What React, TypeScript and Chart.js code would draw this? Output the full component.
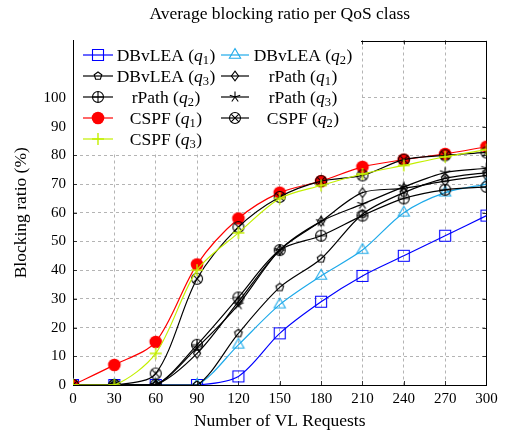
import React, { useEffect, useRef } from 'react';
import { Chart, registerables } from 'chart.js';

Chart.register(...registerables);

// ---- data ----
const requests = [0, 30, 60, 90, 120, 150, 180, 210, 240, 270, 300];
const dbvleaQ1 = [0, 0, 0, 0, 3, 18, 29, 38, 45, 52, 59];
const dbvleaQ2 = [0, 0, 0, 0, 14, 28, 38, 47, 60, 67, 70];
const dbvleaQ3 = [0, 0, 0, 0, 18, 34, 44, 59.5, 67, 72, 74];
const rpathQ1 = [0, 0, 0, 11, 29, 47, 57, 67, 68.5, 71, 73];
const rpathQ2 = [0, 0, 0, 14, 30.5, 47, 52, 59, 65, 68, 69];
const rpathQ3 = [0, 0, 0, 13, 28, 47, 57, 63, 69, 74, 75.5];
const cspfQ1 = [0, 7, 15, 42, 58, 67, 71, 76, 78.5, 80.5, 83];
const cspfQ2 = [0, 0, 4, 37, 55, 65.5, 71, 73, 78.5, 80, 81];
const cspfQ3 = [0, 0, 11, 40, 53, 65, 69.5, 73.5, 76.5, 79.5, 82];

const seriesNames = ['DBvLEA', 'DBvLEA', 'DBvLEA', 'rPath', 'rPath', 'rPath', 'CSPF', 'CSPF', 'CSPF'];
const seriesClass = ['1', '2', '3', '1', '2', '3', '1', '2', '3'];
const seriesValues = [dbvleaQ1, dbvleaQ2, dbvleaQ3, rpathQ1, rpathQ2, rpathQ3, cspfQ1, cspfQ2, cspfQ3];
const seriesColors = ['#0000ff', '#1eaaea', '#000000', '#000000', '#000000', '#000000', '#ff0000', '#000000', '#c3ef00'];
const seriesMarkers = ['square', 'triangle', 'pentagon', 'diamond', 'oplus', 'star', 'circle', 'otimes', 'plus'];

const xTickStep = 30;
const yTickStep = 10;
const yTickTop = 100;
const yAxisMax = 120;

const chartTitle = 'Average blocking ratio per QoS class';
const xTitle = 'Number of VL Requests';
const yTitle = 'Blocking ratio (%)';

const SERIF = '"Liberation Serif", "Times New Roman", Times, serif';

function drawMarker(ctx: CanvasRenderingContext2D, kind: string, color: string, cx: number, cy: number) {
  ctx.save();
  ctx.setLineDash([]);
  ctx.strokeStyle = color;
  ctx.fillStyle = color;
  ctx.lineWidth = 1.1;
  ctx.beginPath();
  switch (kind) {
    case 'square':
      ctx.rect(cx - 5.5, cy - 5.5, 11, 11);
      ctx.stroke();
      break;
    case 'triangle': {
      const r = 6.5;
      ctx.moveTo(cx, cy - r);
      ctx.lineTo(cx + r * 0.866, cy + r * 0.5);
      ctx.lineTo(cx - r * 0.866, cy + r * 0.5);
      ctx.closePath();
      ctx.stroke();
      break;
    }
    case 'pentagon': {
      const r = 4;
      for (let k = 0; k < 5; k++) {
        const a = (-90 + 72 * k) * Math.PI / 180;
        const px = cx + r * Math.cos(a);
        const py = cy + r * Math.sin(a);
        if (k === 0) ctx.moveTo(px, py); else ctx.lineTo(px, py);
      }
      ctx.closePath();
      ctx.stroke();
      break;
    }
    case 'diamond':
      ctx.moveTo(cx, cy - 4.8);
      ctx.lineTo(cx + 3.6, cy);
      ctx.lineTo(cx, cy + 4.8);
      ctx.lineTo(cx - 3.6, cy);
      ctx.closePath();
      ctx.stroke();
      break;
    case 'oplus': {
      const r = 5.5;
      ctx.arc(cx, cy, r, 0, Math.PI * 2);
      ctx.moveTo(cx - r, cy);
      ctx.lineTo(cx + r, cy);
      ctx.moveTo(cx, cy - r);
      ctx.lineTo(cx, cy + r);
      ctx.stroke();
      break;
    }
    case 'otimes': {
      const r = 5.5;
      const d = r * 0.7071;
      ctx.arc(cx, cy, r, 0, Math.PI * 2);
      ctx.moveTo(cx - d, cy - d);
      ctx.lineTo(cx + d, cy + d);
      ctx.moveTo(cx - d, cy + d);
      ctx.lineTo(cx + d, cy - d);
      ctx.stroke();
      break;
    }
    case 'star': {
      const r = 5.5;
      for (let k = 0; k < 5; k++) {
        const a = (-90 + 72 * k) * Math.PI / 180;
        ctx.moveTo(cx, cy);
        ctx.lineTo(cx + r * Math.cos(a), cy + r * Math.sin(a));
      }
      ctx.stroke();
      break;
    }
    case 'circle':
      ctx.arc(cx, cy, 6.3, 0, Math.PI * 2);
      ctx.fill();
      break;
    case 'plus':
      ctx.lineWidth = 1.4;
      ctx.moveTo(cx - 6, cy);
      ctx.lineTo(cx + 6, cy);
      ctx.moveTo(cx, cy - 6);
      ctx.lineTo(cx, cy + 6);
      ctx.stroke();
      break;
  }
  ctx.restore();
}

function makeMarkerCanvas(kind: string, color: string): HTMLCanvasElement {
  const c = document.createElement('canvas');
  c.width = 18;
  c.height = 18;
  const ctx = c.getContext('2d')!;
  drawMarker(ctx, kind, color, 9, 9);
  return c;
}

function drawLegendText(ctx: CanvasRenderingContext2D, name: string, sub: string, centerX: number, baseline: number) {
  const normal = `17.5px ${SERIF}`;
  const italic = `italic 17.5px ${SERIF}`;
  const small = `12.5px ${SERIF}`;
  const p1 = `${name} (`;
  ctx.font = normal;
  const w1 = ctx.measureText(p1).width;
  const w4 = ctx.measureText(')').width;
  ctx.font = italic;
  const w2 = ctx.measureText('q').width;
  ctx.font = small;
  const w3 = ctx.measureText(sub).width;
  const total = w1 + w2 + w3 + w4 + 0.5;
  let x = centerX - total / 2;
  ctx.fillStyle = '#000';
  ctx.textBaseline = 'alphabetic';
  ctx.textAlign = 'left';
  ctx.font = normal;
  ctx.fillText(p1, x, baseline);
  x += w1;
  ctx.font = italic;
  ctx.fillText('q', x, baseline);
  x += w2;
  ctx.font = small;
  ctx.fillText(sub, x, baseline + 3.5);
  x += w3 + 0.5;
  ctx.font = normal;
  ctx.fillText(')', x, baseline);
}

const framePlugin = {
  id: 'frameAndLegend',
  beforeDatasetsDraw(chart: any) {
    const { ctx, chartArea } = chart;
    const { left, right, top, bottom } = chartArea;
    ctx.save();
    ctx.setLineDash([]);
    ctx.strokeStyle = '#333';
    ctx.lineWidth = 1;
    const xs = chart.scales.x;
    const ys = chart.scales.y;
    for (let v = xTickStep; v < 300; v += xTickStep) {
      const px = Math.round(xs.getPixelForValue(v)) + 0.5;
      ctx.beginPath();
      ctx.moveTo(px, bottom);
      ctx.lineTo(px, bottom - 4);
      ctx.moveTo(px, top);
      ctx.lineTo(px, top + 4);
      ctx.stroke();
    }
    for (let v = yTickStep; v <= yTickTop; v += yTickStep) {
      const py = Math.round(ys.getPixelForValue(v)) + 0.5;
      ctx.beginPath();
      ctx.moveTo(left, py);
      ctx.lineTo(left + 4, py);
      ctx.moveTo(right, py);
      ctx.lineTo(right - 4, py);
      ctx.stroke();
    }
    ctx.strokeStyle = '#000';
    ctx.strokeRect(Math.round(left) + 0.5, Math.round(top) + 0.5, Math.round(right - left) - 1, Math.round(bottom - top) - 1);
    ctx.restore();
  },
  afterDraw(chart: any) {
    const { ctx, chartArea } = chart;
    const left = chartArea.left;
    const top = chartArea.top;
    ctx.save();
    // title centred over the plot area
    ctx.fillStyle = '#000';
    ctx.font = `17.5px ${SERIF}`;
    ctx.textAlign = 'center';
    ctx.textBaseline = 'alphabetic';
    ctx.fillText(chartTitle, (chartArea.left + chartArea.right) / 2, 18.5);
    // legend
    ctx.fillStyle = '#ffffff';
    ctx.fillRect(left + 1, top - 2, 287, 113);
    for (let i = 0; i < seriesNames.length; i++) {
      const col = i % 2;
      const row = Math.floor(i / 2);
      const cy = top + 14.5 + row * 21;
      const lx0 = left + (col === 0 ? 10 : 148);
      const lx1 = left + (col === 0 ? 40 : 176);
      const tc = left + (col === 0 ? 93 : 230);
      ctx.setLineDash([]);
      ctx.strokeStyle = seriesColors[i];
      ctx.lineWidth = 1.2;
      ctx.beginPath();
      ctx.moveTo(lx0, cy);
      ctx.lineTo(lx1, cy);
      ctx.stroke();
      drawMarker(ctx, seriesMarkers[i], seriesColors[i], (lx0 + lx1) / 2, cy);
      drawLegendText(ctx, seriesNames[i], seriesClass[i], tc, cy + 5.5);
    }
    ctx.restore();
  },
};

export default function App() {
  const canvasRef = useRef<HTMLCanvasElement | null>(null);

  useEffect(() => {
    document.body.style.margin = '0';
    const canvas = canvasRef.current;
    if (!canvas) return;
    const n = seriesValues.length;
    const datasets = seriesValues.map((vals, i) => {
      const marker = makeMarkerCanvas(seriesMarkers[i], seriesColors[i]);
      return {
        label: `${seriesNames[i]} (q${seriesClass[i]})`,
        data: vals.map((v, j) => ({ x: requests[j], y: v })),
        borderColor: seriesColors[i],
        backgroundColor: seriesColors[i],
        borderWidth: 1.2,
        pointStyle: marker,
        pointRadius: 7,
        pointHoverRadius: 7,
        tension: 0.3,
        order: n - i,
      };
    });

    const chart = new Chart(canvas, {
      type: 'line',
      data: { datasets: datasets as any },
      plugins: [framePlugin as any],
      options: {
        animation: false,
        responsive: false,
        devicePixelRatio: 1,
        layout: { padding: { left: 0, right: 18.5, top: 40.5, bottom: 0 } },
        plugins: {
          legend: { display: false },
          tooltip: { enabled: false },
          title: { display: false },
        },
        scales: {
          x: {
            type: 'linear',
            min: 0,
            max: 300,
            ticks: {
              stepSize: xTickStep,
              color: '#000',
              font: { family: SERIF, size: 15 },
              padding: 5,
              maxRotation: 0,
              autoSkip: false,
            },
            grid: { color: '#b4b4b4', lineWidth: 1, drawTicks: false },
            border: { display: true, color: '#000', width: 1, dash: [3, 3] },
            title: {
              display: true,
              text: xTitle,
              color: '#000',
              font: { family: SERIF, size: 17.5 },
              padding: { top: 0, bottom: 0 },
            },
            afterFit: (s: any) => { s.height = 47; },
          },
          y: {
            type: 'linear',
            min: 0,
            max: yAxisMax,
            ticks: {
              stepSize: yTickStep,
              color: '#000',
              font: { family: SERIF, size: 15 },
              padding: 7,
            },
            afterBuildTicks: (s: any) => { s.ticks = s.ticks.filter((t: any) => t.value <= yTickTop); },
            grid: { color: '#b4b4b4', lineWidth: 1, drawTicks: false },
            border: { display: true, color: '#000', width: 1, dash: [3, 3] },
            title: {
              display: true,
              text: yTitle,
              color: '#000',
              font: { family: SERIF, size: 17.5 },
              padding: { top: 10.5, bottom: 0 },
            },
            afterFit: (s: any) => { s.width = 73; },
          },
        },
      } as any,
    });
    return () => chart.destroy();
  }, []);

  return (
    <div style={{ position: 'absolute', left: 0, top: 0, width: 505, height: 432 }}>
      <canvas ref={canvasRef} width={505} height={432} style={{ display: 'block' }} />
    </div>
  );
}
